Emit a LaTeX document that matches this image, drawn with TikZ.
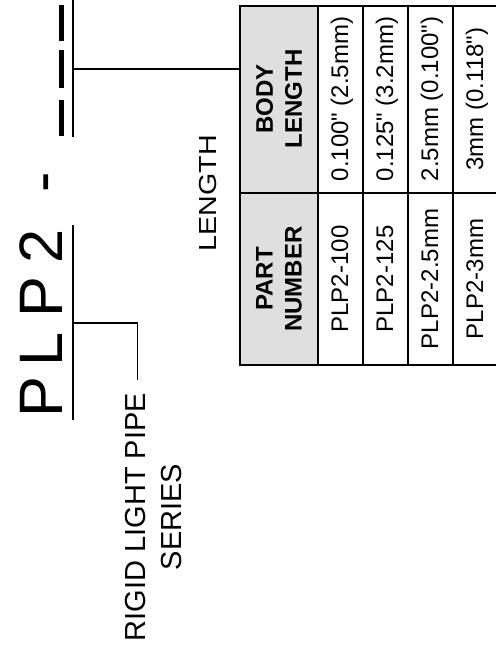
\documentclass[tikz,border=0pt]{standalone}
\usepackage{fontspec}
\setmainfont{Liberation Sans}[Ligatures=TeXOff]
\begin{document}
\begin{tikzpicture}[x=0.75pt,y=-0.75pt,
  conn/.style={line width=1.1pt},
  gridline/.style={line width=1.5pt},
  blank/.style={line width=3.75pt},
  txt/.style={rotate=90, inner sep=0pt},
  cell/.style={txt, anchor=base, font=\fontsize{18}{21.75}\selectfont},
  hdr/.style={txt, align=center, font=\fontsize{18}{21.75}\selectfont\bfseries},
  big/.style={txt, anchor=base west, font=\fontsize{46}{50}\selectfont},
  label/.style={txt, align=center, font=\fontsize{21.75}{27}\selectfont}]
\useasboundingbox (0,0) rectangle (496,654);

% part number text
\node[big] (plp) at (62,418) {P\kern7.9pt L\kern11pt P\kern9.5pt 2\kern27.8pt -};

% blanks for length code
\draw[blank] (61,5) -- (61,40.5);
\draw[blank] (61,50) -- (61,88.3);
\draw[blank] (61,100) -- (61,135.7);

% brackets / leaders
\coordinate (lentop) at (73,0);
\coordinate (lenbot) at (73,137);
\coordinate (lenmid) at (73,69);
\coordinate (tabjoin) at (240,69);
\draw[conn] (lentop) -- (lenbot);
\draw[conn] (lenmid) -- (tabjoin);

\coordinate (sertop) at (73,225);
\coordinate (serbot) at (73,420);
\coordinate (sermid) at (73,323);
\coordinate (serend) at (137.3,380);
\draw[conn] (sertop) -- (serbot);
\draw[conn] (sermid) -| (serend);

% labels
\node[label] (series) at (154,517) {RIGID LIGHT PIPE\\SERIES};
\node[txt, anchor=base, font=\fontsize{18.5}{20}\selectfont] (lenlabel) at (216,193) {\scalebox{1.16}[1]{LENGTH}};

% table
\fill[gray!25] (240,5.5) rectangle (318,365);
\draw[gridline] (498,5.5) -- (240,5.5) -- (240,365) -- (498,365);
\draw[gridline] (240,193) -- (498,193);
\foreach \x in {318,363,408,453} \draw[gridline] (\x,5.5) -- (\x,365);

\node[hdr] (hpart) at (279,279) {PART\\NUMBER};
\node[hdr] (hbody) at (279,99) {BODY\\LENGTH};

\node[cell] (p1) at (348,279) {PLP2-100};
\node[cell] (p2) at (393,279) {PLP2-125};
\node[cell] (p3) at (438,279) {PLP2-2.5mm};
\node[cell] (p4) at (483,279) {PLP2-3mm};

\node[cell] (b1) at (348,99) {0.100" (2.5mm)};
\node[cell] (b2) at (393,99) {0.125" (3.2mm)};
\node[cell] (b3) at (438,99) {2.5mm (0.100")};
\node[cell] (b4) at (483,99) {3mm (0.118")};
\end{tikzpicture}
\end{document}
